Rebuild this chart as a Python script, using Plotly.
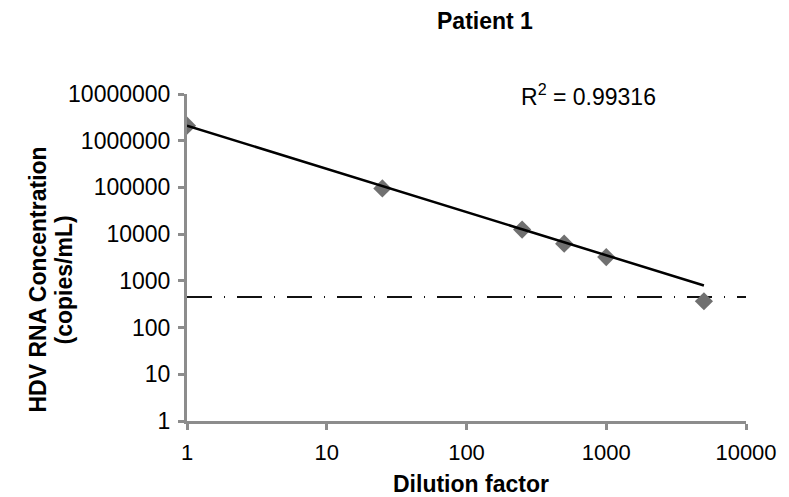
import numpy as np
import plotly.graph_objects as go

# Data
dilution = [1, 25, 250, 500, 1000, 5000]
concentration = [2100000, 95000, 12500, 6250, 3230, 366]
trend_a = 2100000      # power trendline y = a * x^b
trend_b = -0.925
trend_xmax = 5000
loq = 450               # dashed reference line
r2_text = "R<sup>2</sup> = 0.99316"
title_text = "Patient 1"
y_title_lines = ["HDV RNA Concentration", "(copies/mL)"]
x_title = "Dilution factor"
x_ticks = [1, 10, 100, 1000, 10000]
y_ticks = [1, 10, 100, 1000, 10000, 100000, 1000000, 10000000]

W, H = 789, 497
L, R, T, B = 187, 41, 94, 76
pw, ph = W - L - R, H - T - B

def px(xp):
    return (xp - L) / pw

def py(yp):
    return (H - B - yp) / ph

fig = go.Figure()

# LOQ dashed line
fig.add_trace(go.Scatter(
    x=[x_ticks[0], x_ticks[-1]], y=[loq, loq], mode="lines",
    line=dict(color="#111111", width=2, dash="25px,12px,1px,12px"),
    hoverinfo="skip", showlegend=False))

# data markers
fig.add_trace(go.Scatter(
    x=dilution, y=concentration, mode="markers",
    marker=dict(symbol="diamond", size=14, color="#707070"),
    showlegend=False))

# trendline
tx = np.logspace(0, np.log10(trend_xmax), 200)
ty = trend_a * tx ** trend_b
fig.add_trace(go.Scatter(
    x=tx, y=ty, mode="lines", line=dict(color="#000000", width=2.5),
    hoverinfo="skip", showlegend=False))

font = "Liberation Sans, Arial, sans-serif"

fig.update_layout(
    width=W, height=H,
    margin=dict(l=L, r=R, t=T, b=B),
    paper_bgcolor="white", plot_bgcolor="white",
    font=dict(family=font, color="#000000"),
    xaxis=dict(type="log", range=[0, 4], tickvals=x_ticks,
               ticktext=[str(v) for v in x_ticks],
               showgrid=False, zeroline=False,
               showline=True, linecolor="#8c8c8c", linewidth=3,
               ticks="outside", ticklen=6, tickwidth=3, tickcolor="#8c8c8c",
               tickfont=dict(size=22), ticklabelstandoff=4),
    yaxis=dict(type="log", range=[0, 7], tickvals=y_ticks,
               ticktext=[str(v) for v in y_ticks],
               showgrid=False, zeroline=False,
               showline=True, linecolor="#8c8c8c", linewidth=3,
               ticks="outside", ticklen=6, tickwidth=3, tickcolor="#8c8c8c",
               tickfont=dict(size=23), ticklabelstandoff=3),
)

fig.add_annotation(text="<b>" + title_text + "</b>", xref="paper", yref="paper",
                   x=px(486), y=py(21), showarrow=False,
                   font=dict(size=23), xanchor="center", yanchor="middle")
fig.add_annotation(text="<b>" + x_title + "</b>", xref="paper", yref="paper",
                   x=px(472), y=py(484), showarrow=False,
                   font=dict(size=23), xanchor="center", yanchor="middle")
for line, xc in zip(y_title_lines, [37, 64]):
    fig.add_annotation(text="<b>" + line + "</b>",
                       xref="paper", yref="paper", x=px(xc), y=py(280),
                       showarrow=False, textangle=-90,
                       font=dict(size=23), xanchor="center", yanchor="middle")
fig.add_annotation(text=r2_text, xref="paper", yref="paper",
                   x=px(520), y=py(95), showarrow=False,
                   font=dict(size=23), xanchor="left", yanchor="middle")

fig.write_html("out.html")
